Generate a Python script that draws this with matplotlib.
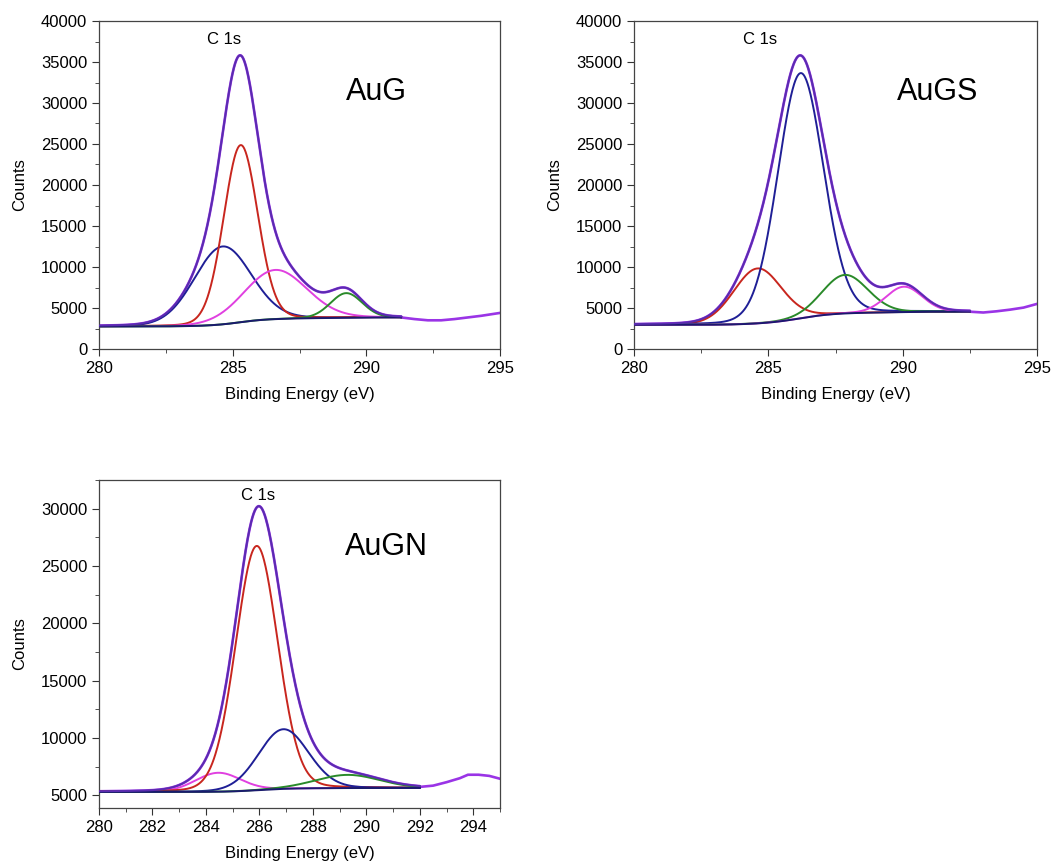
import numpy as np
import matplotlib
matplotlib.use("Agg")
import matplotlib.pyplot as plt
from matplotlib.ticker import MultipleLocator

plt.rcParams["font.family"] = ["Liberation Sans", "DejaVu Sans"]

# fitted C 1s components: centre (eV), height above background, FWHM (eV)
AUG_CENTERS = [284.62, 285.3, 286.6, 289.25]
AUG_HEIGHTS = [9500, 21600, 6000, 3000]
AUG_FWHM = [2.5, 1.5, 2.75, 1.4]
AUG_COLORS = ["#1f1f96", "#c8261e", "#e040e0", "#2a8a2a"]
AUG_BG = (2750, 3850)  # background level at low / high binding energy
AUG_FIT_RANGE = (280.0, 291.3)
# measured spectrum outside the fitted window
AUG_TAIL_X = [291.3, 291.8, 292.3, 292.8, 293.3, 293.8, 294.3, 295.0]
AUG_TAIL_Y = [3850, 3650, 3500, 3500, 3650, 3850, 4050, 4400]

AUGS_CENTERS = [284.6, 286.2, 287.85, 290.05]
AUGS_HEIGHTS = [6700, 29900, 4700, 3100]
AUGS_FWHM = [2.1, 2.0, 2.0, 1.6]
AUGS_COLORS = ["#c8261e", "#1f1f96", "#2a8a2a", "#e040e0"]
AUGS_BG = (2950, 4550)
AUGS_FIT_RANGE = (280.0, 292.5)
AUGS_TAIL_X = [292.5, 293.0, 293.5, 294.0, 294.5, 295.0]
AUGS_TAIL_Y = [4550, 4450, 4600, 4800, 5050, 5500]

AUGN_CENTERS = [284.46, 285.9, 286.9, 289.3]
AUGN_HEIGHTS = [1650, 21300, 5200, 1150]
AUGN_FWHM = [2.0, 1.85, 2.2, 2.8]
AUGN_COLORS = ["#e040e0", "#c8261e", "#1f1f96", "#2a8a2a"]
AUGN_BG = (5300, 5650)
AUGN_FIT_RANGE = (280.0, 292.0)
AUGN_TAIL_X = [292.0, 292.5, 293.0, 293.5, 293.8, 294.2, 294.6, 295.0]
AUGN_TAIL_Y = [5740, 5850, 6150, 6500, 6800, 6800, 6700, 6450]

PANELS = [
    (AUG_CENTERS, AUG_HEIGHTS, AUG_FWHM, AUG_COLORS, AUG_BG, AUG_FIT_RANGE,
     AUG_TAIL_X, AUG_TAIL_Y),
    (AUGS_CENTERS, AUGS_HEIGHTS, AUGS_FWHM, AUGS_COLORS, AUGS_BG, AUGS_FIT_RANGE,
     AUGS_TAIL_X, AUGS_TAIL_Y),
    (AUGN_CENTERS, AUGN_HEIGHTS, AUGN_FWHM, AUGN_COLORS, AUGN_BG, AUGN_FIT_RANGE,
     AUGN_TAIL_X, AUGN_TAIL_Y),
]

ENVELOPE_COLOR = "#5a2cb0"
DATA_COLOR = "#9a34e6"
BG_COLOR = "#1a1a6e"


def gl_peak(x, c, h, w, mix=0.08):
  """Gaussian-Lorentzian sum line shape, as used by the fitting software."""
  g = np.exp(-4 * np.log(2) * ((x - c) / w) ** 2)
  l = 1.0 / (1.0 + 4 * ((x - c) / w) ** 2)
  return h * ((1 - mix) * g + mix * l)


def shirley_bg(x, peaks, lo, hi):
  total = np.sum(peaks, axis=0)
  cum = np.cumsum(total)
  return lo + (hi - lo) * cum / cum[-1]


def draw_panel(ax, centers, heights, fwhm, colors, bg_lv, fit_range, tail_x, tail_y):
  x = np.linspace(fit_range[0], fit_range[1], 800)
  peaks = [gl_peak(x, c, h, w) for c, h, w in zip(centers, heights, fwhm)]
  bg = shirley_bg(x, peaks, *bg_lv)
  env = bg + np.sum(peaks, axis=0)

  # measured data (fit window + tail), then components, then envelope
  ax.plot(np.r_[x, tail_x], np.r_[env, tail_y], color=DATA_COLOR, lw=1.9, zorder=2)
  for p, col in zip(peaks, colors):
    ax.plot(x, bg + p, color=col, lw=1.4, zorder=3)
  ax.plot(x, bg, color=BG_COLOR, lw=1.4, zorder=3)
  ax.plot(x, env, color=ENVELOPE_COLOR, lw=1.4, zorder=4)

  ax.set_xlim(280, 295)
  ax.set_xlabel("Binding Energy (eV)", fontsize=12, labelpad=8)
  ax.set_ylabel("Counts", fontsize=12, labelpad=10)
  ax.tick_params(which="both", direction="out", labelsize=12, top=False, right=False,
                 color="#333333")
  ax.tick_params(which="major", length=5)
  ax.tick_params(which="minor", length=3)
  for s in ax.spines.values():
    s.set_color("#444444")
    s.set_linewidth(0.9)


fig = plt.figure(figsize=(10.58, 8.66), dpi=100)
W, H = 1058, 866
ax1 = fig.add_axes([99 / W, 1 - 349 / H, 401 / W, 328 / H])
ax2 = fig.add_axes([634 / W, 1 - 349 / H, 403 / W, 328 / H])
ax3 = fig.add_axes([99 / W, 1 - 808 / H, 401 / W, 328 / H])

for ax, panel in zip((ax1, ax2, ax3), PANELS):
  draw_panel(ax, *panel)

for ax in (ax1, ax2):
  ax.set_ylim(0, 40000)
  ax.xaxis.set_major_locator(MultipleLocator(5))
  ax.xaxis.set_minor_locator(MultipleLocator(2.5))
  ax.yaxis.set_major_locator(MultipleLocator(5000))
  ax.yaxis.set_minor_locator(MultipleLocator(2500))

ax3.set_ylim(3900, 32500)
ax3.xaxis.set_major_locator(MultipleLocator(2))
ax3.xaxis.set_minor_locator(MultipleLocator(1))
ax3.yaxis.set_major_locator(MultipleLocator(5000))
ax3.yaxis.set_minor_locator(MultipleLocator(2500))

ax1.text(284.68, 37800, "C 1s", ha="center", va="center", fontsize=12)
ax2.text(284.68, 37800, "C 1s", ha="center", va="center", fontsize=12)
ax3.text(285.96, 31160, "C 1s", ha="center", va="center", fontsize=12)
ax1.text(290.36, 31400, "AuG", ha="center", va="center", fontsize=22)
ax2.text(291.3, 31300, "AuGS", ha="center", va="center", fontsize=22)
ax3.text(290.76, 26700, "AuGN", ha="center", va="center", fontsize=22)

fig.savefig("out.png", dpi=100)
